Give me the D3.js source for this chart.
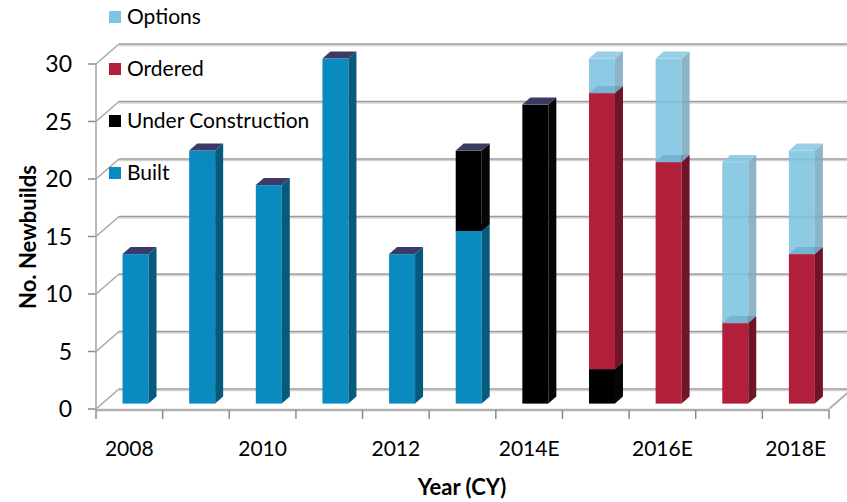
<!DOCTYPE html>
<html lang="en">
<head>
  <meta charset="UTF-8">
  <title>Newbuilds by Year</title>
  <script src="https://d3js.org/d3.v7.min.js"></script>
  <style>
    body {
      margin: 0;
      background: #fff;
      font-family: Lato, "Liberation Sans", sans-serif;
    }
    .tick-label { font-size: 21px; fill: #000; }
    .y-label { font-size: 23px; }
    .axis-title { font-size: 22px; font-weight: bold; fill: #000; }
    .legend-text { font-size: 21px; fill: #000; }
  </style>
</head>
<body>
  <svg id="chart" width="847" height="502"></svg>

  <script>
    // Chart values
    const years = ["2008", "2009", "2010", "2011", "2012", "2013",
                   "2014E", "2015E", "2016E", "2017E", "2018E"];
    const built             = [13, 22, 19, 30, 13, 15,  0,  0,  0,  0,  0];
    const underConstruction = [ 0,  0,  0,  0,  0,  7, 26,  3,  0,  0,  0];
    const ordered           = [ 0,  0,  0,  0,  0,  0,  0, 24, 21,  7, 13];
    const options           = [ 0,  0,  0,  0,  0,  0,  0,  3,  9, 14,  9];
    const yTicks = [0, 5, 10, 15, 20, 25, 30];
    const xTickLabels = ["2008", "2010", "2012", "2014E", "2016E", "2018E"];

    // series styling (front / side / top faces)
    const series = [
      { key: "built", name: "Built", front: "#0a8bbf", side: "#065a7e", top: "#3c3a69", opacity: 1 },
      { key: "uc", name: "Under Construction", front: "#000000", side: "#060606", top: "#3b3a63", opacity: 1 },
      { key: "ordered", name: "Ordered", front: "#b21f3b", side: "#701428", top: "#3e4878", opacity: 1 },
      { key: "options", name: "Options", front: "#7ec4e1", side: "#7eaac0", top: "#8cc9e3", opacity: 0.88 }
    ];

    const table = years.map((y, i) => ({
      year: y,
      built: built[i],
      uc: underConstruction[i],
      ordered: ordered[i],
      options: options[i]
    }));

    const svg = d3.select("#chart");

    // 3d depth of the plot box and of each bar
    const depth = { dx: 23, dy: -20 };
    const barFront = 0.27;   // where the bar face sits, as share of the depth
    const barDepth = { dx: 8, dy: -7 };

    const x = d3.scaleBand().domain(years).range([96, 829]);
    const y = d3.scaleLinear().domain([0, 30]).range([409, 64]);
    const barW = x.bandwidth() * 0.39;

    const grid = svg.append("g");

    // back wall gridlines (dark line with a lighter shadow)
    yTicks.forEach(v => {
      const yy = y(v) + depth.dy;
      grid.append("line")
        .attr("x1", 96 + depth.dx).attr("x2", 829 + depth.dx)
        .attr("y1", yy + 1.5).attr("y2", yy + 1.5)
        .attr("stroke", "#d4d4d4").attr("stroke-width", 1.5);
      grid.append("line")
        .attr("x1", 96 + depth.dx).attr("x2", 829 + depth.dx)
        .attr("y1", yy).attr("y2", yy)
        .attr("stroke", "#9c9c9c").attr("stroke-width", 1.6);
      // side wall diagonal
      grid.append("line")
        .attr("x1", 96).attr("y1", y(v))
        .attr("x2", 96 + depth.dx).attr("y2", y(v) + depth.dy)
        .attr("stroke", "#a8a8a8").attr("stroke-width", 1.6);
      // tick mark on the front axis
      grid.append("line")
        .attr("x1", 88).attr("x2", 96)
        .attr("y1", y(v)).attr("y2", y(v))
        .attr("stroke", "#8c8c8c").attr("stroke-width", 1.5);
    });

    // front vertical axis
    grid.append("line")
      .attr("x1", 96).attr("x2", 96)
      .attr("y1", y(0)).attr("y2", y(30))
      .attr("stroke", "#a8a8a8").attr("stroke-width", 1.6);

    // floor: front edge and right diagonal
    grid.append("line")
      .attr("x1", 96).attr("x2", 829)
      .attr("y1", y(0) + 1).attr("y2", y(0) + 1)
      .attr("stroke", "#b0b0b0").attr("stroke-width", 2.5);
    grid.append("line")
      .attr("x1", 829).attr("y1", y(0))
      .attr("x2", 829 + depth.dx).attr("y2", y(0) + depth.dy)
      .attr("stroke", "#b4b4b4").attr("stroke-width", 2);

    // category tick marks under the floor
    years.concat(["end"]).forEach((d, i) => {
      const xx = i < years.length ? x(d) : x.range()[1];
      grid.append("line")
        .attr("x1", xx).attr("x2", xx)
        .attr("y1", y(0) + 1).attr("y2", y(0) + 10)
        .attr("stroke", "#8c8c8c").attr("stroke-width", 1.5);
    });

    // stacked 3d bars
    const stacked = d3.stack().keys(series.map(s => s.key))(table);
    const ox = depth.dx * barFront, oy = depth.dy * barFront;

    const bars = svg.append("g");
    table.forEach((row, i) => {
      const left = x(row.year) + (x.bandwidth() - barW) / 2 + ox;
      const right = left + barW;
      stacked.forEach((layer, si) => {
        const [v0, v1] = layer[i];
        if (v1 - v0 <= 0) return;
        const s = series[si];
        const yb = y(v0) + oy, yt = y(v1) + oy;
        const g = bars.append("g").attr("opacity", s.opacity);
        // front face
        g.append("rect")
          .attr("x", left).attr("y", yt)
          .attr("width", barW).attr("height", yb - yt)
          .attr("fill", s.front);
        // side face
        g.append("path")
          .attr("d", `M${right},${yb} L${right},${yt} L${right + barDepth.dx},${yt + barDepth.dy} L${right + barDepth.dx},${yb + barDepth.dy} Z`)
          .attr("fill", s.side);
        // top face
        g.append("path")
          .attr("d", `M${left},${yt} L${right},${yt} L${right + barDepth.dx},${yt + barDepth.dy} L${left + barDepth.dx},${yt + barDepth.dy} Z`)
          .attr("fill", s.top);
      });
    });

    // y tick labels
    svg.append("g").selectAll("text")
      .data(yTicks)
      .join("text")
      .attr("class", "tick-label y-label")
      .attr("x", 72)
      .attr("y", d => y(d))
      .attr("dy", "0.35em")
      .attr("text-anchor", "end")
      .text(d => d);

    // x tick labels (every other year)
    svg.append("g").selectAll("text")
      .data(xTickLabels)
      .join("text")
      .attr("class", "tick-label")
      .attr("x", d => x(d) + x.bandwidth() / 2)
      .attr("y", 456)
      .attr("text-anchor", "middle")
      .text(d => d);

    // axis titles
    svg.append("text")
      .attr("class", "axis-title")
      .attr("x", 462).attr("y", 495)
      .attr("text-anchor", "middle")
      .text("Year (CY)");

    svg.append("text")
      .attr("class", "axis-title")
      .attr("transform", "translate(36,237) rotate(-90)")
      .attr("text-anchor", "middle")
      .text("No. Newbuilds");

    // legend, top entry first
    const legend = svg.append("g").selectAll("g")
      .data(series.slice().reverse())
      .join("g")
      .attr("transform", (d, i) => `translate(109,${17 + i * 52})`);
    legend.append("rect")
      .attr("x", 0).attr("y", -6)
      .attr("width", 12).attr("height", 12)
      .attr("fill", d => d.front);
    legend.append("text")
      .attr("class", "legend-text")
      .attr("x", 18).attr("dy", "0.35em")
      .text(d => d.name);
  </script>
</body>
</html>
